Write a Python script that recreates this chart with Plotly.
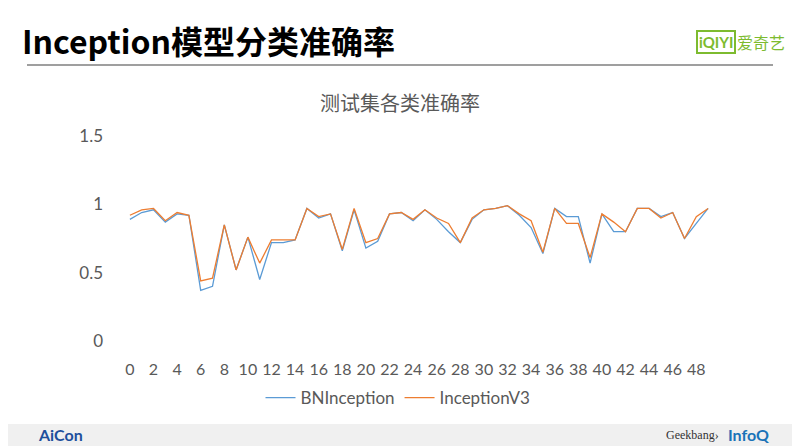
import plotly.graph_objects as go

# class index 0..49
classes = list(range(50))

bn_inception = [0.89, 0.94, 0.96, 0.87, 0.93, 0.92, 0.37, 0.40, 0.85, 0.52,
                0.76, 0.45, 0.72, 0.72, 0.74, 0.97, 0.90, 0.93, 0.66, 0.96,
                0.68, 0.73, 0.93, 0.94, 0.88, 0.96, 0.89, 0.80, 0.72, 0.89,
                0.96, 0.97, 0.99, 0.92, 0.83, 0.64, 0.97, 0.91, 0.91, 0.57,
                0.93, 0.80, 0.80, 0.97, 0.97, 0.91, 0.94, 0.75, 0.86, 0.97]
inception_v3 = [0.92, 0.96, 0.97, 0.88, 0.94, 0.92, 0.44, 0.46, 0.85, 0.52,
                0.76, 0.57, 0.74, 0.74, 0.74, 0.97, 0.91, 0.93, 0.67, 0.97,
                0.72, 0.75, 0.93, 0.94, 0.89, 0.96, 0.90, 0.86, 0.72, 0.90,
                0.96, 0.97, 0.99, 0.93, 0.88, 0.65, 0.97, 0.86, 0.86, 0.61,
                0.93, 0.87, 0.80, 0.97, 0.97, 0.90, 0.94, 0.75, 0.91, 0.97]

x_ticks = list(range(0, 50, 2))
y_ticks = [0, 0.5, 1, 1.5]
y_labels = ["0", "0.5", "1", "1.5"]

GRAY = "#595959"
CJK = "Noto Sans CJK SC"


# screen pixel -> paper coords (plot area is 124..714 x 136..341 on screen)
def px(x):
    return (x - 124) / 590


def py(y):
    return (341 - y) / 205


fig = go.Figure()
fig.add_trace(go.Scatter(x=classes, y=bn_inception, mode="lines", name="BNInception",
                         line=dict(color="#5B9BD5", width=1.3)))
fig.add_trace(go.Scatter(x=classes, y=inception_v3, mode="lines", name="InceptionV3",
                         line=dict(color="#ED7D31", width=1.3)))

# page body has an 8px margin, so the figure is shifted back by 8px
fig.update_layout(
    width=800, height=446,
    margin=dict(l=116, r=94, t=128, b=113),
    paper_bgcolor="white", plot_bgcolor="white",
    font=dict(family="Lato", color=GRAY, size=16),
    showlegend=True,
    legend=dict(orientation="h", x=px(398), xanchor="center",
                y=py(398), yanchor="middle",
                font=dict(size=17, color=GRAY), itemwidth=30,
                bgcolor="rgba(0,0,0,0)"),
    xaxis=dict(range=[-0.5, 49.5], tickvals=x_ticks, showgrid=False, zeroline=False,
               showline=False, ticks="", ticklabelstandoff=17, automargin=False,
               tickfont=dict(size=16, color=GRAY)),
    yaxis=dict(range=[0, 1.5], tickvals=y_ticks, ticktext=y_labels, showgrid=False,
               zeroline=False, showline=False, ticks="", ticklabelstandoff=20,
               automargin=False, tickfont=dict(size=17, color=GRAY)),
)

# slide title and underline
fig.add_annotation(text="<b>Inception模型分类准确率</b>", xref="paper", yref="paper",
                   x=px(20), y=py(40), xanchor="left", yanchor="middle",
                   showarrow=False, font=dict(family=CJK, size=32, color="black"))
fig.add_shape(type="line", xref="paper", yref="paper",
              x0=px(27), x1=px(773), y0=py(65), y1=py(65),
              line=dict(color="#7f7f7f", width=1.5))

# iQIYI logo
fig.add_annotation(text="<b>iQIYI</b>", xref="paper", yref="paper",
                   x=px(716), y=py(42), xanchor="center", yanchor="middle",
                   showarrow=False, font=dict(family="Lato", size=15, color="#7dbb2f"),
                   bordercolor="#7dbb2f", borderwidth=2, borderpad=1)
fig.add_annotation(text="爱奇艺", xref="paper", yref="paper",
                   x=px(761), y=py(42), xanchor="center", yanchor="middle",
                   showarrow=False, font=dict(family=CJK, size=16, color="#7dbb2f"))

# chart title
fig.add_annotation(text="测试集各类准确率", xref="paper", yref="paper",
                   x=px(400), y=py(102), xanchor="center", yanchor="middle",
                   showarrow=False, font=dict(family=CJK, size=20, color=GRAY))

# footer band
fig.add_shape(type="rect", xref="paper", yref="paper",
              x0=px(0), x1=px(800), y0=py(446), y1=py(424),
              fillcolor="#f0f0f0", line=dict(width=0), layer="below")
fig.add_annotation(text="<b>AiCon</b>", xref="paper", yref="paper",
                   x=px(36), y=py(434), xanchor="left", yanchor="middle",
                   showarrow=False, font=dict(family="Lato", size=16, color="#1d4f9c"))
fig.add_annotation(text="Geekbang›", xref="paper", yref="paper",
                   x=px(692), y=py(435), xanchor="center", yanchor="middle",
                   showarrow=False, font=dict(family="Liberation Sans Narrow", size=12, color="#333333"))
fig.add_annotation(text="<b>InfoQ</b>", xref="paper", yref="paper",
                   x=px(748), y=py(434), xanchor="center", yanchor="middle",
                   showarrow=False, font=dict(family="Lato", size=16, color="#1a73b8"))

fig.write_html("out.html")
